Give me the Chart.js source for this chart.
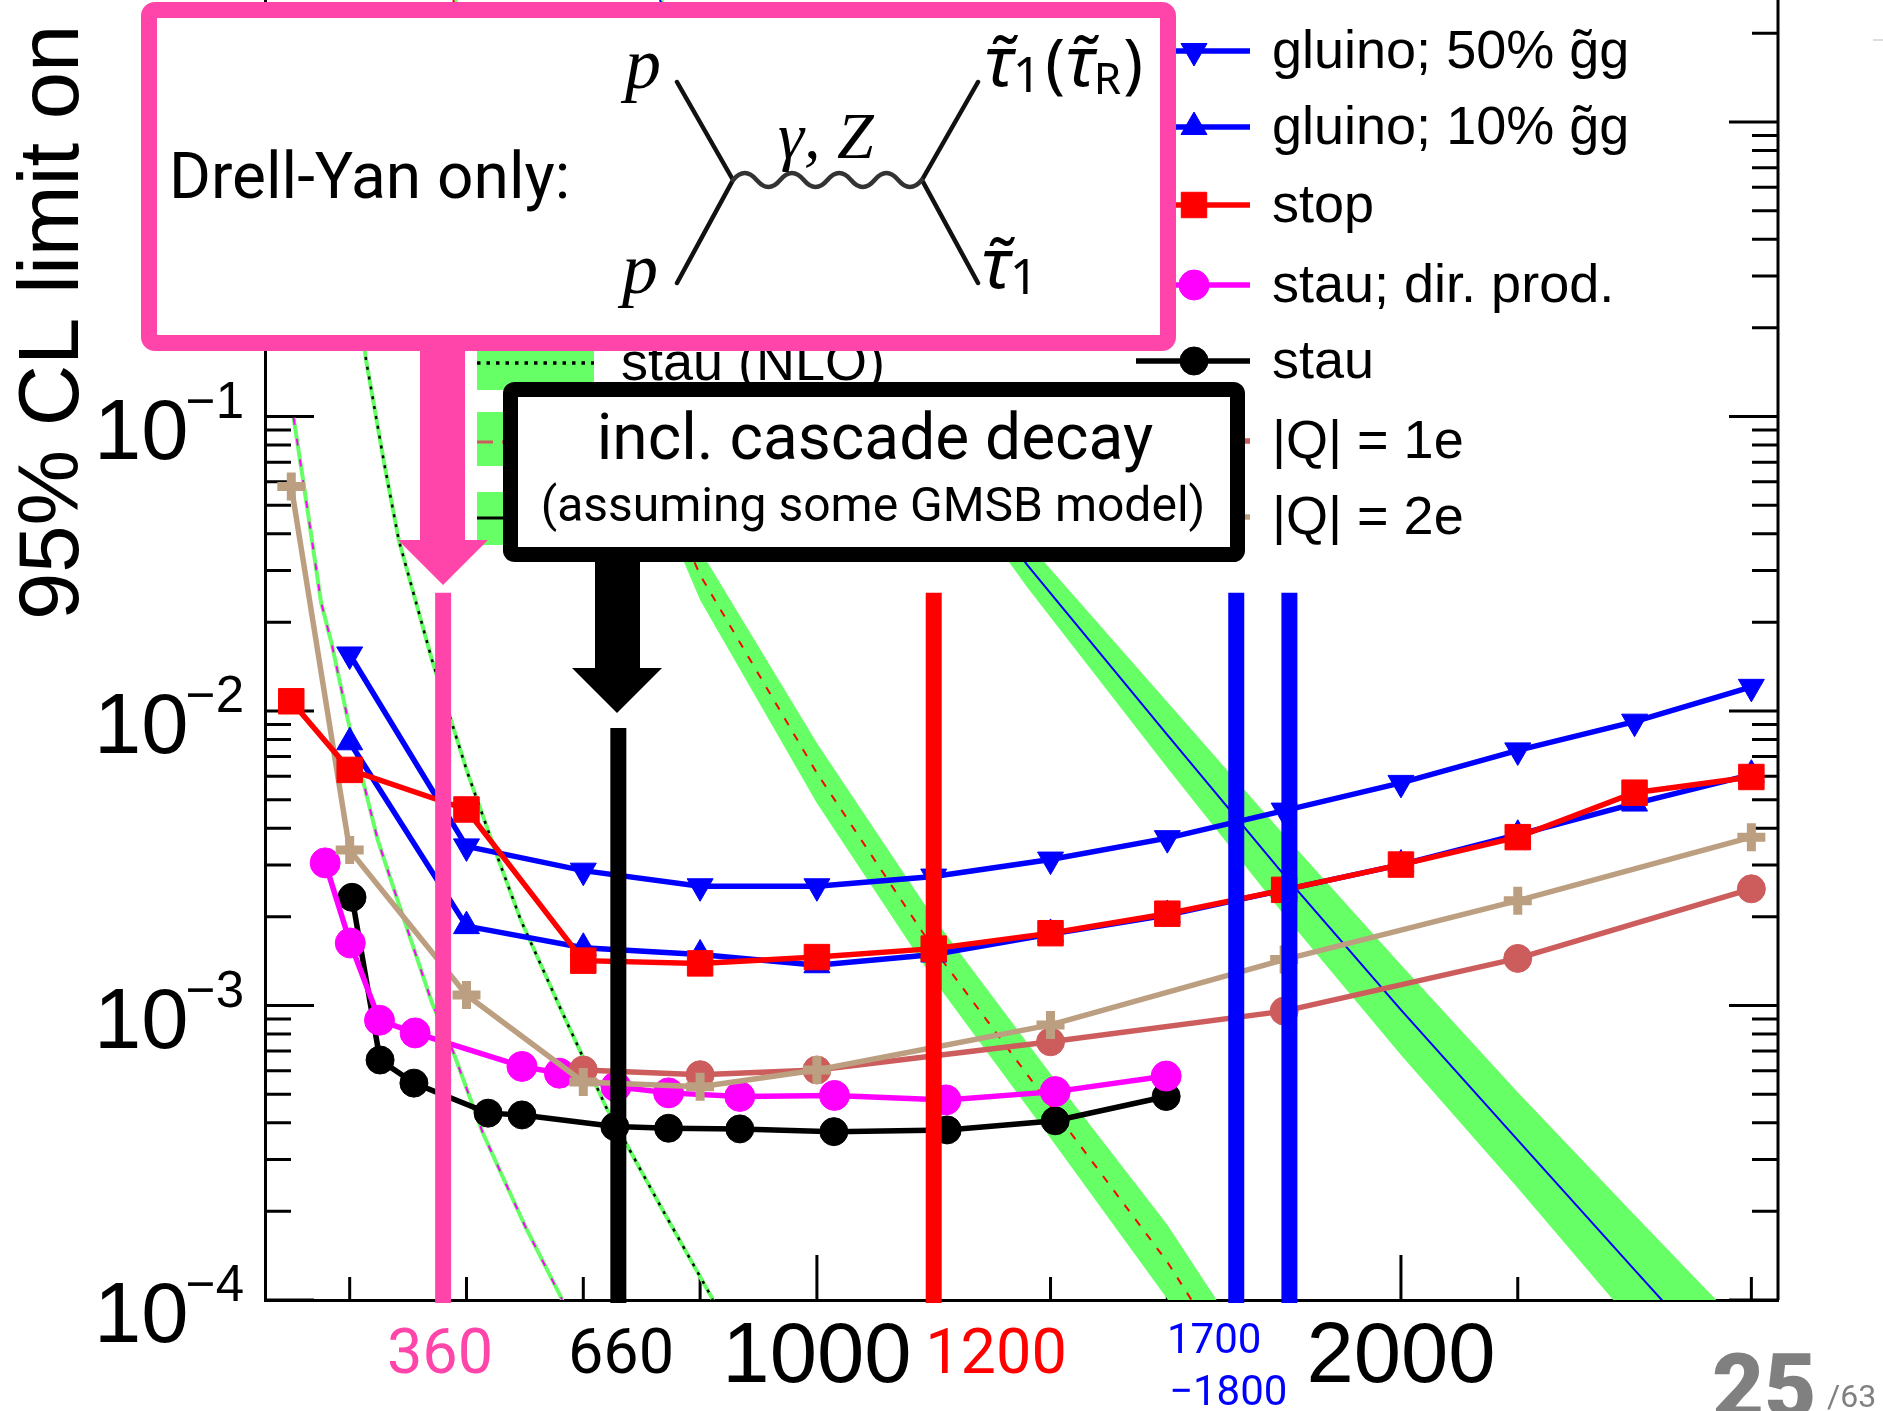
<!DOCTYPE html>
<html>
<head>
<meta charset="utf-8">
<title>95% CL limit</title>
<script src="https://cdn.jsdelivr.net/npm/chart.js@4/dist/chart.umd.js"></script>
<style>
    html, body { margin: 0; padding: 0; background: #fff; overflow: hidden; }
    #wrap { position: relative; width: 1883px; height: 1411px; overflow: hidden; }
    #limitChart { position: absolute; left: 0; top: 0; }
    #overlay { position: absolute; left: 0; top: 0; }
</style>
</head>
<body>
<div id="wrap">
    <canvas id="limitChart" width="1883" height="1411"></canvas>
    <svg id="overlay" width="1883" height="1411" font-family="Roboto">
        <!-- Drell-Yan box and arrow -->
        <polygon points="420,351 465,351 465,540 488,540 443,585 398,540 420,540" fill="#ff44aa"/>
        <rect x="149" y="10" width="1019" height="333" rx="6" fill="#fff" stroke="#ff44aa" stroke-width="16"/>
        <text x="169" y="198" font-size="64">Drell-Yan only:</text>
        <text x="625" y="88" font-size="72" font-family="Liberation Serif" font-style="italic">p</text>
        <text x="622" y="293" font-size="72" font-family="Liberation Serif" font-style="italic">p</text>
        <g stroke="#111" stroke-width="4.5" fill="none" stroke-linecap="round">
            <path d="M677 82 L733 180 L677 283"/>
            <path d="M978 82 L922 180 L978 283"/>
            <path stroke="#333" d="M733 180 q11.8 -14 23.6 0 t23.6 0 t23.6 0 t23.6 0 t23.6 0 t23.6 0 t23.6 0 t23.6 0"/>
        </g>
        <text x="778" y="158" font-size="66" font-family="Liberation Serif" font-style="italic">γ, Z</text>
        <text x="984" y="86" font-size="70" font-family="Noto Sans" font-style="italic">τ&#771;<tspan font-style="normal" font-size="50" dy="6">1</tspan><tspan font-style="normal" font-size="66" dy="-6" dx="4">(</tspan>τ&#771;<tspan font-style="normal" font-size="44" dy="8">R</tspan><tspan font-style="normal" font-size="66" dy="-8" dx="2">)</tspan></text>
        <text x="981" y="288" font-size="70" font-family="Noto Sans" font-style="italic">τ&#771;<tspan font-style="normal" font-size="50" dy="6">1</tspan></text>

        <!-- cascade decay box and arrow -->
        <polygon points="595,562 640,562 640,668 662,668 617,713 572,668 595,668" fill="#000"/>
        <rect x="510.5" y="389.5" width="727" height="165" rx="4" fill="#fff" stroke="#000" stroke-width="15"/>
        <text x="875" y="459" font-size="64" text-anchor="middle">incl. cascade decay</text>
        <text x="873" y="521" font-size="48" text-anchor="middle">(assuming some GMSB model)</text>

        <!-- mass labels -->
        <text x="440" y="1373" font-size="63" text-anchor="middle" fill="#ff44aa">360</text>
        <text x="621" y="1373" font-size="63" text-anchor="middle" fill="#000">660</text>
        <text x="996" y="1373" font-size="63" text-anchor="middle" fill="#ff0000">1200</text>
        <text x="1167" y="1353" font-size="42" fill="#0000ff">1700</text>
        <text x="1169" y="1405" font-size="42" fill="#0000ff">−1800</text>

        <!-- page number -->
        <text x="1712" y="1418" font-size="90" font-weight="900" fill="#808080">25</text>
        <text x="1827" y="1407" font-size="32" fill="#808080">/63</text>
        <line x1="1873" y1="40" x2="1883" y2="40" stroke="#bbb" stroke-width="1"/>
    </svg>
</div>
<script>
// Axis ticks
const xTickValues = [200, 400, 600, 800, 1000, 1200, 1400, 1600, 1800, 2000, 2200, 2400, 2600];
const xMajorValues = [1000, 2000];
const yDecades = [0.0001, 0.001, 0.01, 0.1, 1];
const yMinorSteps = [2, 3, 4, 5, 6, 7, 8, 9];
const yLabelExponents = ['−4', '−3', '−2', '−1'];

// Limits
const gluinoMasses = [200, 400, 600, 800, 1000, 1200, 1400, 1600, 1800, 2000, 2200, 2400, 2600];
const gluino50Limit = [0.01556, 0.00347, 0.00287, 0.00254, 0.00254, 0.00274, 0.00313, 0.0037, 0.00459, 0.0057, 0.00735, 0.0092, 0.01208];
const gluino10Limit = [0.00783, 0.00186, 0.00157, 0.00149, 0.00137, 0.00149, 0.00175, 0.00203, 0.00247, 0.00301, 0.0038, 0.00485, 0.00608];

const stopMasses = [100, 200, 400, 600, 800, 1000, 1200, 1400, 1600, 1800, 2000, 2200, 2400, 2600];
const stopLimit = [0.01079, 0.00631, 0.00463, 0.00142, 0.00139, 0.00146, 0.00156, 0.00176, 0.00205, 0.00247, 0.00301, 0.00373, 0.00528, 0.00597];

const stauDirMasses = [158, 201, 251, 312, 495, 559, 656, 746, 868, 1030, 1221, 1408, 1598];
const stauDirLimit = [0.00305, 0.00163, 0.000891, 0.000807, 0.000621, 0.000589, 0.00053, 0.000505, 0.000491, 0.000495, 0.000478, 0.00051, 0.000576];

const stauMasses = [204, 252, 310, 437, 495, 654, 746, 868, 1029, 1223, 1408, 1598];
const stauLimit = [0.00233, 0.000653, 0.000545, 0.000431, 0.000425, 0.000388, 0.000383, 0.000381, 0.000373, 0.000378, 0.000406, 0.000491];

const q1Masses = [600, 800, 1000, 1400, 1800, 2200, 2600];
const q1Limit = [0.000604, 0.000582, 0.000604, 0.000753, 0.000957, 0.001445, 0.00249];

const q2Masses = [100, 200, 400, 600, 800, 1000, 1400, 1800, 2200, 2600];
const q2Limit = [0.0579, 0.00337, 0.001086, 0.00055, 0.00053, 0.000604, 0.000859, 0.001432, 0.00227, 0.00373];

// Theory curves
const stopTheoryMasses = [377, 600, 800, 1000, 1200, 1400, 1600, 1707];
const stopTheory = [2.594, 0.2301, 0.02897, 0.006152, 0.001556, 0.000456, 0.0001346, 0.0000625];
const stopTheoryHigh = [2.78, 0.2582, 0.03524, 0.00778, 0.001982, 0.000587, 0.00018, 0.0000855];
const stopTheoryLow = [2.421, 0.2051, 0.02382, 0.004864, 0.001222, 0.000354, 0.0001007, 0.0000457];

const gluinoTheoryMasses = [731, 1000, 1200, 1360, 1600, 1800, 2000, 2200, 2400, 2540];
const gluinoTheory = [2.594, 0.3141, 0.08318, 0.03133, 0.008299, 0.002773, 0.000966, 0.000349, 0.0001265, 0.0000625];
const gluinoTheoryHigh = [2.716, 0.3443, 0.0955, 0.03733, 0.01074, 0.003793, 0.001374, 0.000508, 0.0001945, 0.0001];
const gluinoTheoryLow = [2.477, 0.2864, 0.07244, 0.0263, 0.006412, 0.002028, 0.000679, 0.00024, 0.0000822, 0.0000391];

const stauNloMasses = [223, 228, 259, 284, 341, 402, 455, 493, 562, 639, 733, 820, 830];
const stauNlo = [0.1862, 0.1556, 0.0695, 0.0381, 0.01489, 0.00615, 0.00312, 0.00195, 0.000966, 0.000452, 0.000207, 0.000102, 0.0000889];

const stauDirTheoryMasses = [104, 125, 151, 169, 197, 248, 282, 341, 378, 428, 501, 562, 575];
const stauDirTheory = [0.0989, 0.0525, 0.0234, 0.017, 0.00931, 0.00365, 0.00228, 0.00102, 0.00069, 0.000369, 0.000177, 0.000102, 0.0000855];

// Mass limit markers
const markerMasses = [360, 660, 1200, 1718, 1809];
const markerTops = [0.0252, 0.00875, 0.0252, 0.0252, 0.0252];
const markerColors = ['#ff44aa', '#000000', '#ff0000', '#0000ff', '#0000ff'];
const markerBottom = 0.0000977;

const legendLabels = ['gluino; 50% g\u0303g', 'gluino; 10% g\u0303g', 'stop', 'stau; dir. prod.', 'stau', '|Q| = 1e', '|Q| = 2e'];

const GREEN = '#66ff66';
const TAN = '#bc9f80';
const ROSE = '#cd5c5c';
const FONT = '"Liberation Sans"';

function zip(masses, values) {
    return masses.map((m, i) => ({ x: m, y: values[i] }));
}

function markerSeries(label, masses, values, color, style, radius, extra) {
    return Object.assign({
        label: label,
        data: zip(masses, values),
        borderColor: color,
        backgroundColor: color,
        borderWidth: 5.5,
        pointStyle: style,
        pointRadius: radius,
        pointBackgroundColor: color,
        pointBorderColor: color,
        pointBorderWidth: 1
    }, extra || {});
}

function bandEdge(masses, values, fill) {
    return {
        data: zip(masses, values),
        borderWidth: 0,
        borderColor: GREEN,
        backgroundColor: GREEN,
        pointRadius: 0,
        fill: fill
    };
}

function thinLine(masses, values, color, width, dash) {
    return {
        data: zip(masses, values),
        borderColor: color,
        borderWidth: width,
        borderDash: dash || [],
        pointRadius: 0,
        fill: false
    };
}

// Painted first to last
const datasets = [
    bandEdge(stopTheoryMasses, stopTheoryHigh, '+1'),
    bandEdge(stopTheoryMasses, stopTheoryLow, false),
    thinLine(stopTheoryMasses, stopTheory, '#ff0000', 2, [8, 10]),
    bandEdge(gluinoTheoryMasses, gluinoTheoryHigh, '+1'),
    bandEdge(gluinoTheoryMasses, gluinoTheoryLow, false),
    thinLine(gluinoTheoryMasses, gluinoTheory, '#0000ff', 2),
    thinLine(stauNloMasses, stauNlo, GREEN, 4),
    thinLine(stauNloMasses, stauNlo, '#000000', 2.5, [3, 7]),
    thinLine(stauDirTheoryMasses, stauDirTheory, GREEN, 4),
    thinLine(stauDirTheoryMasses, stauDirTheory, '#ff00ff', 2, [7, 14]),
    markerSeries('stau', stauMasses, stauLimit, '#000000', 'circle', 14),
    markerSeries('stau; dir. prod.', stauDirMasses, stauDirLimit, '#ff00ff', 'circle', 15),
    markerSeries('|Q| = 1e', q1Masses, q1Limit, ROSE, 'circle', 14),
    markerSeries('|Q| = 2e', q2Masses, q2Limit, TAN, 'cross', 14, { pointBorderWidth: 9 }),
    markerSeries('gluino; 50%', gluinoMasses, gluino50Limit, '#0000ff', 'triangle', 15, { pointRotation: 180 }),
    markerSeries('gluino; 10%', gluinoMasses, gluino10Limit, '#0000ff', 'triangle', 15),
    markerSeries('stop', stopMasses, stopLimit, '#ff0000', 'rect', 18)
];

markerMasses.forEach((m, i) => {
    datasets.push({
        data: [{ x: m, y: markerBottom }, { x: m, y: markerTops[i] }],
        borderColor: markerColors[i],
        borderWidth: 16,
        pointRadius: 0,
        clip: false,
        fill: false
    });
});

datasets.forEach((d, i) => { d.order = datasets.length - i; });

// Ticks point inwards, so they are drawn by hand from the scale's own ticks
const axisDecor = {
    id: 'axisDecor',
    beforeDatasetsDraw(chart) {
        const { ctx, chartArea, scales } = chart;
        ctx.save();
        ctx.strokeStyle = '#000';
        ctx.lineWidth = 3;
        ctx.beginPath();
        scales.x.ticks.forEach(t => {
            const px = scales.x.getPixelForValue(t.value);
            const len = xMajorValues.includes(t.value) ? 45 : 23;
            ctx.moveTo(px, chartArea.bottom);
            ctx.lineTo(px, chartArea.bottom - len);
        });
        scales.y.ticks.forEach(t => {
            const py = scales.y.getPixelForValue(t.value);
            const len = t.major ? 49 : 26;
            ctx.moveTo(chartArea.left, py);
            ctx.lineTo(chartArea.left + len, py);
            ctx.moveTo(chartArea.right, py);
            ctx.lineTo(chartArea.right - len, py);
        });
        ctx.moveTo(chartArea.right, chartArea.top);
        ctx.lineTo(chartArea.right, chartArea.bottom);
        ctx.stroke();

        // decade labels, the 10^0 one sits behind the box
        ctx.fillStyle = '#000';
        yLabelExponents.forEach((exp, i) => {
            const py = scales.y.getPixelForValue(yDecades[i]);
            ctx.font = '85px ' + FONT;
            ctx.textAlign = 'left';
            ctx.fillText('10', 94, py + 42);
            ctx.font = '51px ' + FONT;
            ctx.textAlign = 'right';
            ctx.fillText(exp, 244, py + 1);
        });

        // y title runs off the top of the page
        ctx.translate(78, 620);
        ctx.rotate(-Math.PI / 2);
        ctx.font = '85px ' + FONT;
        ctx.textAlign = 'left';
        ctx.fillText('95% CL limit on', 0, 0);
        ctx.restore();
    }
};

const legendBox = {
    id: 'legendBox',
    afterDatasetsDraw(chart) {
        const ctx = chart.ctx;
        const rows = [51, 127, 205, 285, 361, 441, 517];
        const styles = [
            { color: '#0000ff', pointStyle: 'triangle', radius: 15, rotation: 180 },
            { color: '#0000ff', pointStyle: 'triangle', radius: 15, rotation: 0 },
            { color: '#ff0000', pointStyle: 'rect', radius: 18, rotation: 0 },
            { color: '#ff00ff', pointStyle: 'circle', radius: 15, rotation: 0 },
            { color: '#000000', pointStyle: 'circle', radius: 14, rotation: 0 },
            { color: ROSE, pointStyle: 'circle', radius: 14, rotation: 0 },
            { color: TAN, pointStyle: 'cross', radius: 14, rotation: 0 }
        ];
        ctx.save();
        ctx.fillStyle = '#fff';
        ctx.fillRect(477, 3, 1223, 557);

        // left column swatches
        ctx.fillStyle = GREEN;
        [[336, 54], [412, 54], [492, 53]].forEach(r => ctx.fillRect(477, r[0], 117, r[1]));
        ctx.fillStyle = '#000';
        ctx.font = '54px ' + FONT;
        ctx.fillText('stau (NLO)', 621, 380);
        ctx.strokeStyle = '#000';
        ctx.lineWidth = 3.5;
        ctx.setLineDash([3.5, 6]);
        ctx.beginPath();
        ctx.moveTo(477, 363);
        ctx.lineTo(594, 363);
        ctx.stroke();
        ctx.lineWidth = 3;
        ctx.setLineDash([16, 9]);
        ctx.strokeStyle = ROSE;
        ctx.beginPath();
        ctx.moveTo(477, 442);
        ctx.lineTo(594, 442);
        ctx.stroke();
        ctx.setLineDash([]);
        ctx.strokeStyle = '#000';
        ctx.beginPath();
        ctx.moveTo(477, 518);
        ctx.lineTo(594, 518);
        ctx.stroke();

        // right column
        rows.forEach((y, i) => {
            const s = styles[i];
            ctx.strokeStyle = s.color;
            ctx.lineWidth = 5.5;
            ctx.beginPath();
            ctx.moveTo(1136, y);
            ctx.lineTo(1250, y);
            ctx.stroke();
            ctx.fillStyle = s.color;
            ctx.lineWidth = s.pointStyle === 'cross' ? 9 : 1;
            Chart.helpers.drawPoint(ctx, { pointStyle: s.pointStyle, radius: s.radius, rotation: s.rotation, borderWidth: ctx.lineWidth }, 1194, y);
            ctx.fillStyle = '#000';
            ctx.font = '54px ' + FONT;
            ctx.textAlign = 'left';
            ctx.fillText(legendLabels[i], 1272, y + 17);
        });
        ctx.restore();
    }
};

new Chart(document.getElementById('limitChart').getContext('2d'), {
    type: 'line',
    data: { datasets: datasets },
    plugins: [axisDecor, legendBox],
    options: {
        responsive: false,
        animation: false,
        layout: { autoPadding: false, padding: { left: 0, right: 105, top: 0, bottom: 0 } },
        plugins: {
            legend: { display: false },
            tooltip: { enabled: false }
        },
        elements: { line: { tension: 0 } },
        scales: {
            x: {
                type: 'linear',
                min: 55,
                max: 2645.6,
                grid: { display: false },
                border: { display: true, color: '#000', width: 3 },
                afterBuildTicks: axis => { axis.ticks = xTickValues.map(v => ({ value: v })); },
                afterFit: axis => {
                    axis.height = 111;
                    axis.paddingLeft = axis.paddingRight = 0;
                },
                ticks: {
                    autoSkip: false,
                    maxRotation: 0,
                    padding: 0,
                    color: '#000',
                    font: { family: FONT, size: 85 },
                    callback: v => (xMajorValues.includes(v) ? String(v) : '')
                }
            },
            y: {
                type: 'logarithmic',
                min: 0.0001,
                max: 2.596,
                grid: { display: false },
                border: { display: true, color: '#000', width: 3 },
                afterBuildTicks: axis => {
                    const ticks = [];
                    yDecades.forEach(d => {
                        ticks.push({ value: d, major: true });
                        yMinorSteps.forEach(s => {
                            if (d * s <= axis.max) ticks.push({ value: d * s, major: false });
                        });
                    });
                    axis.ticks = ticks;
                },
                afterFit: axis => {
                    axis.width = 265;
                    axis.paddingTop = axis.paddingBottom = 0;
                },
                ticks: { display: false }
            }
        }
    }
});
</script>
</body>
</html>
